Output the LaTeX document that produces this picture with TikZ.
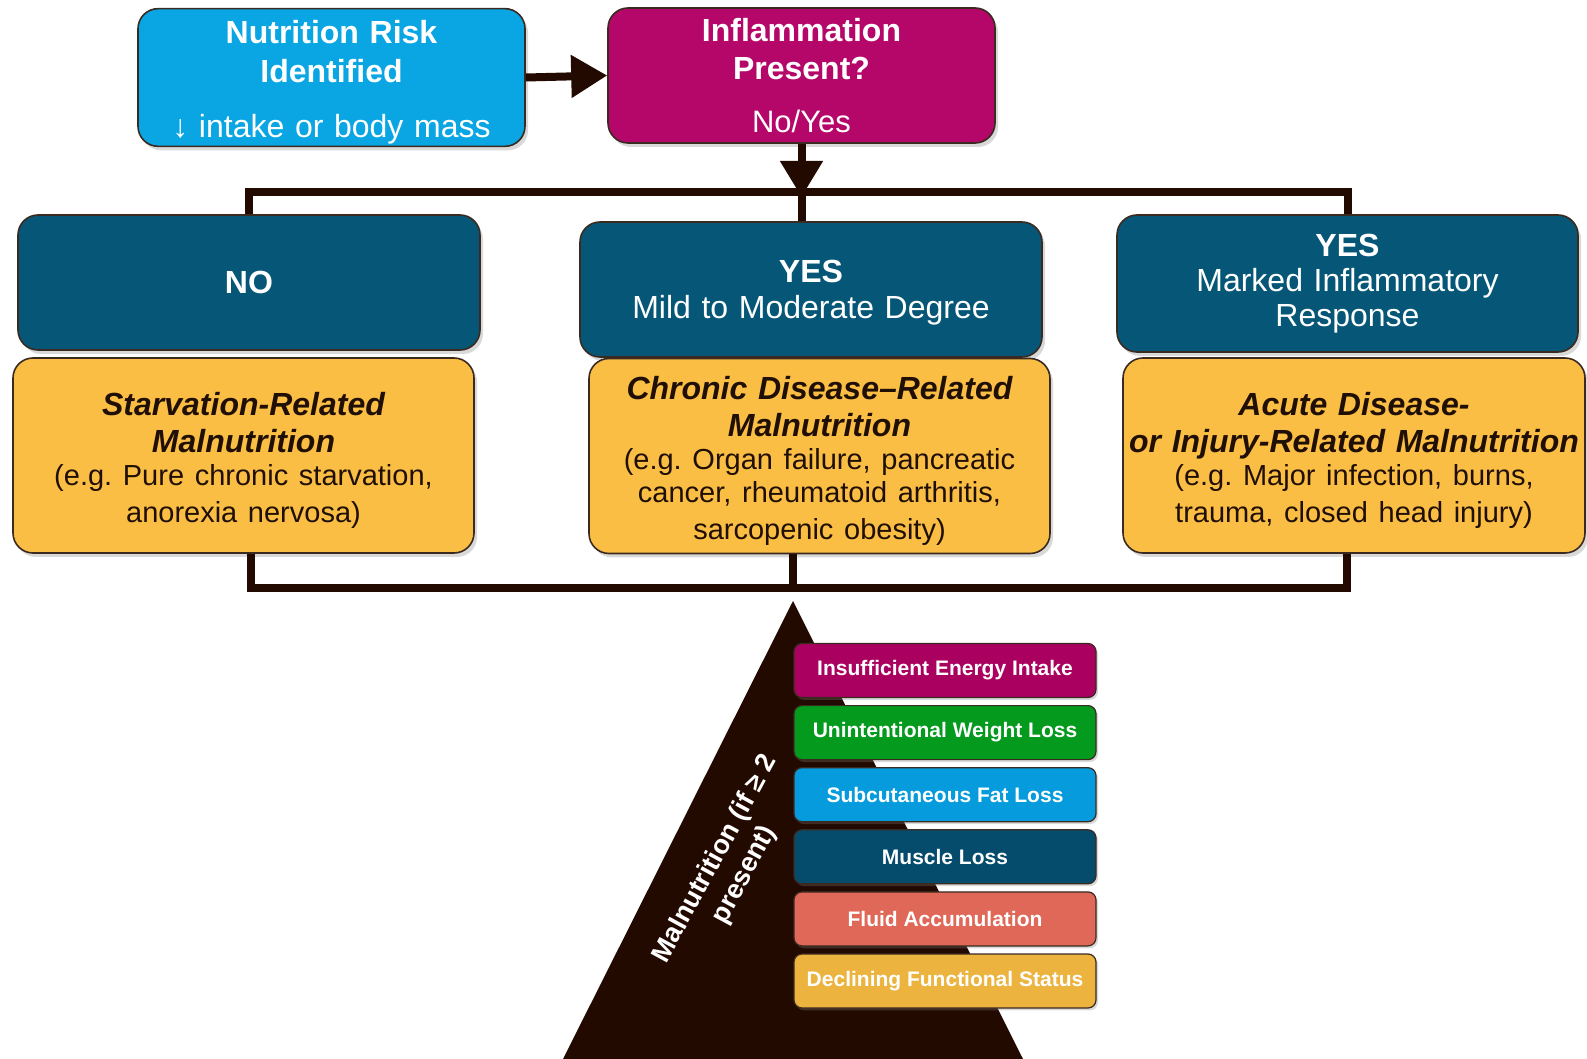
\documentclass[tikz,border=0pt]{standalone}
\usepackage{fontspec}
\setmainfont{Liberation Sans}
\usetikzlibrary{arrows.meta,shadows}
\frenchspacing

\definecolor{riskblue}{HTML}{0AA6E3}
\definecolor{inflmag}{HTML}{B5066A}
\definecolor{deepteal}{HTML}{065777}
\definecolor{warmyellow}{HTML}{FBBE44}
\definecolor{edgebrown}{HTML}{3B2A20}
\definecolor{inkbrown}{HTML}{230A00}
\definecolor{darktext}{HTML}{1F0F05}
\definecolor{tagmag}{HTML}{AA005F}
\definecolor{taggreen}{HTML}{049A1E}
\definecolor{tagblue}{HTML}{059BDC}
\definecolor{tagteal}{HTML}{054C6C}
\definecolor{tagcoral}{HTML}{E06858}
\definecolor{taggold}{HTML}{ECB43E}

\newcommand\bigsz{\fontsize{16}{18.5}\selectfont}
\newcommand\smallsz{\fontsize{14.5}{16.5}\selectfont}
\newcommand\tagsz{\fontsize{10.5}{12}\selectfont}
\newcommand\pyrsz{\fontsize{13.5}{16.5}\selectfont}
% invisible strut that lowers a centred text block
\newcommand\lowerby[1]{\rule{0pt}{#1}}

\begin{document}
\begin{tikzpicture}[x=0.5pt,y=-0.5pt,
  box/.style={draw=edgebrown, line width=0.8pt, rounded corners=10pt,
    inner sep=1pt, align=center,
    drop shadow={shadow xshift=1.5pt, shadow yshift=-2pt, opacity=0.3}},
  topbox/.style={box, minimum width=193.5pt, minimum height=67.5pt,
    text width=188pt, text=white, font=\bigsz},
  headbox/.style={box, fill=deepteal, minimum width=231pt, minimum height=67.5pt,
    text width=226pt, text=white, font=\bigsz},
  kindbox/.style={box, fill=warmyellow, minimum width=230.5pt, minimum height=97.5pt,
    text width=228pt, text=darktext, font=\bigsz},
  tag/.style={draw=edgebrown, line width=0.6pt, rounded corners=4pt,
    minimum width=151pt, minimum height=27pt, inner sep=1pt,
    text=white, font=\bfseries\tagsz,
    drop shadow={shadow xshift=1pt, shadow yshift=-1.2pt, opacity=0.3}},
  conn/.style={draw=inkbrown, line width=4pt},
  arrowconn/.style={conn, -{Triangle[length=18pt,width=20.5pt]}}
]
\useasboundingbox (0,0) rectangle (1587,1059);

% top row
\node[topbox, fill=riskblue] (risk) at (331.5,77.5)
  {\bfseries\lowerby{16.5pt}Nutrition Risk\\[1pt]Identified\\[9pt]\mdseries ↓ intake or body mass};
\node[topbox, fill=inflmag] (infl) at (801.5,75.5)
  {\bfseries Inflammation\\[0.5pt]Present?\\[8pt]\mdseries\fontsize{15.5}{18.5}\selectfont No/Yes};

% inflammation categories
\node[headbox] (no) at (249,282.5) {\bfseries NO};
\node[headbox] (mild) at (811,289.5)
  {\bfseries\lowerby{14.5pt}YES\\[-0.5pt]\mdseries Mild to Moderate Degree};
\node[headbox, minimum width=230.5pt, minimum height=68.5pt] (marked) at (1347.5,283.5)
  {\bfseries YES\\[-1pt]\mdseries Marked Inflammatory\\[-1pt]Response};

% malnutrition types
\node[kindbox] (starv) at (243.5,455.5)
  {\bfseries\itshape\lowerby{17pt}Starvation-Related\\[0pt]Malnutrition\\[0pt]%
   \normalfont\smallsz (e.g. Pure chronic starvation,\\anorexia nervosa)};
\node[kindbox] (chronic) at (819.5,456)
  {\bfseries\itshape\lowerby{16.5pt}Chronic Disease–Related\\[0pt]Malnutrition\\[0pt]%
   \normalfont\smallsz (e.g. Organ failure, pancreatic\\cancer, rheumatoid arthritis,\\sarcopenic obesity)};
\node[kindbox, minimum width=231pt] (acute) at (1354,455.5)
  {\bfseries\itshape\lowerby{17pt}Acute Disease-\\[0pt]or Injury-Related Malnutrition\\[0pt]%
   \normalfont\smallsz (e.g. Major infection, burns,\\trauma, closed head injury)};

% connectors
\draw[arrowconn] (risk.east) -- (infl.west);
\coordinate (hub) at (801.5,192);
\draw[conn] (no.north) |- (hub) -| (marked.north);
\draw[conn] (hub) -- (hub |- mild.north);
\draw[arrowconn] (infl.south) -- (801.5,197);

\coordinate (f1) at (251,588);
\coordinate (foot) at (793,588);
\coordinate (f3) at (1347,588);
\draw[conn] (starv.south -| f1) -- (f1) -- (f3) -- (acute.south -| f3);
\draw[conn] (chronic.south -| foot) -- (foot);

% pyramid of criteria
\fill[inkbrown] (793,601) -- (1023,1059) -- (563,1059) -- cycle;
\node[rotate=61.5, align=center, text=white, font=\bfseries\pyrsz] (crit) at (730,867)
  {Malnutrition (if ≥ 2\\present)};

\node[tag, fill=tagmag]   (t1) at (945,670.5) {Insufficient Energy Intake};
\node[tag, fill=taggreen] (t2) at (945,732.6) {Unintentional Weight Loss};
\node[tag, fill=tagblue]  (t3) at (945,794.7) {Subcutaneous Fat Loss};
\node[tag, fill=tagteal]  (t4) at (945,856.8) {Muscle Loss};
\node[tag, fill=tagcoral] (t5) at (945,918.9) {Fluid Accumulation};
\node[tag, fill=taggold]  (t6) at (945,981)   {Declining Functional Status};
\end{tikzpicture}
\end{document}
